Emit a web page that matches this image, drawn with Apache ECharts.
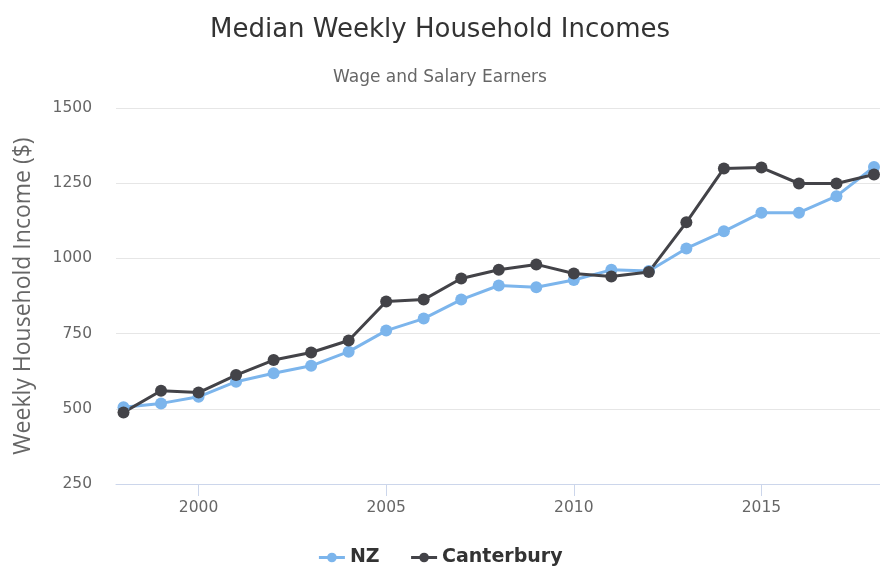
<!DOCTYPE html>
<html>
<head>
<meta charset="utf-8">
<script src="https://cdn.jsdelivr.net/npm/echarts@6/dist/echarts.min.js"></script>
<style>
  html, body { margin: 0; padding: 0; background: #fff; }
  #chart { width: 880px; height: 585px; }
</style>
</head>
<body>
<div id="chart"></div>
<script>
// years on the x axis
var years = [1998, 1999, 2000, 2001, 2002, 2003, 2004, 2005, 2006, 2007, 2008,
             2009, 2010, 2011, 2012, 2013, 2014, 2015, 2016, 2017, 2018];
var nzValues = [505, 518, 540, 590, 618, 643, 690, 760, 800, 863, 910,
                904, 928, 962, 958, 1033, 1090, 1152, 1152, 1207, 1304];
var canterburyValues = [488, 560, 554, 612, 662, 687, 727, 857, 863, 933, 962,
                        980, 950, 940, 955, 1120, 1299, 1302, 1249, 1249, 1279];
var xTickLabels = [2000, 2005, 2010, 2015];

var chart = echarts.init(document.getElementById('chart'));

function pairs(vals) {
  return Array.from(years, (y, i) => [y, vals[i]]);
}

var option = {
  animation: false,
  textStyle: { fontFamily: 'DejaVu Sans' },
  title: [
    {
      text: 'Median Weekly Household Incomes',
      left: 'center',
      top: 12,
      textStyle: { fontSize: 26, fontWeight: 'normal', color: '#333333', fontFamily: 'DejaVu Sans' }
    },
    {
      text: 'Wage and Salary Earners',
      left: 'center',
      top: 64,
      textStyle: { fontSize: 17, fontWeight: 'normal', color: '#666666', fontFamily: 'DejaVu Sans' }
    }
  ],
  legend: {
    bottom: 13,
    left: 'center',
    itemGap: 30,
    itemWidth: 26,
    itemHeight: 12,
    lineStyle: { width: 3 },
    textStyle: { fontSize: 19, fontWeight: 'bold', color: '#333333', fontFamily: 'DejaVu Sans' },
    data: ['NZ', 'Canterbury']
  },
  grid: { left: 116, right: 0, top: 108, bottom: 101, containLabel: false },
  xAxis: {
    type: 'value',
    min: 1997.8,
    max: 2018.16,
    axisLine: { show: true, lineStyle: { color: '#ccd6eb', width: 1 } },
    axisTick: { show: true, customValues: xTickLabels, length: 12, lineStyle: { color: '#ccd6eb' } },
    axisLabel: {
      customValues: xTickLabels,
      color: '#666666',
      fontSize: 15.5,
      margin: 16,
      formatter: function (v) { return String(v); }
    },
    splitLine: { show: false }
  },
  yAxis: {
    type: 'value',
    min: 250,
    max: 1500,
    interval: 250,
    name: 'Weekly Household Income ($)',
    nameLocation: 'middle',
    nameGap: 81,
    nameTextStyle: { fontSize: 23, color: '#666666', fontFamily: 'Open Sans' },
    axisLine: { show: false },
    axisTick: { show: false },
    axisLabel: {
      color: '#666666',
      fontSize: 15.5,
      margin: 24,
      formatter: function (v) { return String(v); }
    },
    splitLine: { lineStyle: { color: '#e6e6e6', width: 1 } }
  },
  series: [
    {
      name: 'NZ',
      type: 'line',
      data: pairs(nzValues),
      symbol: 'circle',
      symbolSize: 12,
      lineStyle: { width: 3, color: '#7cb5ec' },
      itemStyle: { color: '#7cb5ec' }
    },
    {
      name: 'Canterbury',
      type: 'line',
      data: pairs(canterburyValues),
      symbol: 'circle',
      symbolSize: 12,
      lineStyle: { width: 3, color: '#434348' },
      itemStyle: { color: '#434348' }
    }
  ]
};
chart.setOption(option);
</script>
</body>
</html>
